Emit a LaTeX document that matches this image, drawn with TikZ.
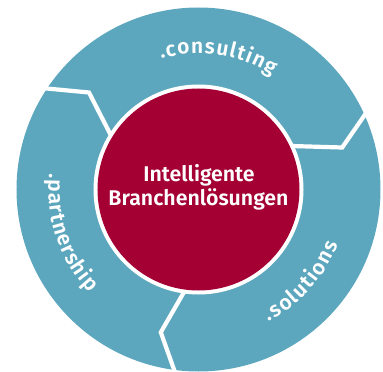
\documentclass[tikz,border=0pt]{standalone}
\usepackage{fontspec}
\setmainfont{Fira Sans}
\newfontfamily\cenfont{Fira Sans SemiBold}
\usetikzlibrary{decorations.text}
\definecolor{ringteal}{RGB}{92,167,190}
\definecolor{corecrimson}{RGB}{164,0,52}
\tikzset{
  sepline/.style={draw=white, line width=4.2pt, line join=miter, line cap=butt},
  disc/.style={circle, inner sep=0pt, outer sep=0pt, draw=none},
  centertext/.style={text=white, font=\cenfont\fontsize{21.3}{25}\selectfont, inner sep=0pt, anchor=base},
  ringlabel/.style={decorate, decoration={text along path, text={|\cenfont\fontsize{21}{25}\selectfont|#1}, text color=white, text align=fit to path}}
}
\begin{document}
\begin{tikzpicture}[x=1pt,y=1pt]
\useasboundingbox (-198.5,-182.5) rectangle (184.5,189.5);
% ring
\node[disc, fill=ringteal, minimum size=364pt] (ring) at (0,0) {};
% separators
\coordinate (s1a) at (-157,101.5);
\coordinate (s1b) at (-109.5,97);
\coordinate (s1c) at (-86.5,52);
\coordinate (s2a) at (170,80);
\coordinate (s2b) at (143.7,42);
\coordinate (s2c) at (93,43.5);
\coordinate (s3a) at (-13,-100);
\coordinate (s3b) at (-37.7,-142.8);
\coordinate (s3c) at (-22,-187);
\draw[sepline] (s1a) -- (s1b) -- (s1c);
\draw[sepline] (s2a) -- (s2b) -- (s2c);
\draw[sepline] (s3a) -- (s3b) -- (s3c);
% core
\node[disc, fill=white, minimum size=210pt] (gap) at (0,0) {};
\node[disc, fill=corecrimson, minimum size=202pt] (core) at (0,0) {};
\node[centertext] (t1) at (0.5,8) {Intelligente};
\node[centertext] (t2) at (0,-16) {Branchenlösungen};
% ring labels
\path[ringlabel=.consulting] (106:136) arc[start angle=106, end angle=57, radius=136];
\path[ringlabel=.solutions] (-62:150) arc[start angle=-62, end angle=-21.5, radius=150];
\path[ringlabel=.partnership] (174:150) arc[start angle=174, end angle=223.5, radius=150];
\end{tikzpicture}
\end{document}
